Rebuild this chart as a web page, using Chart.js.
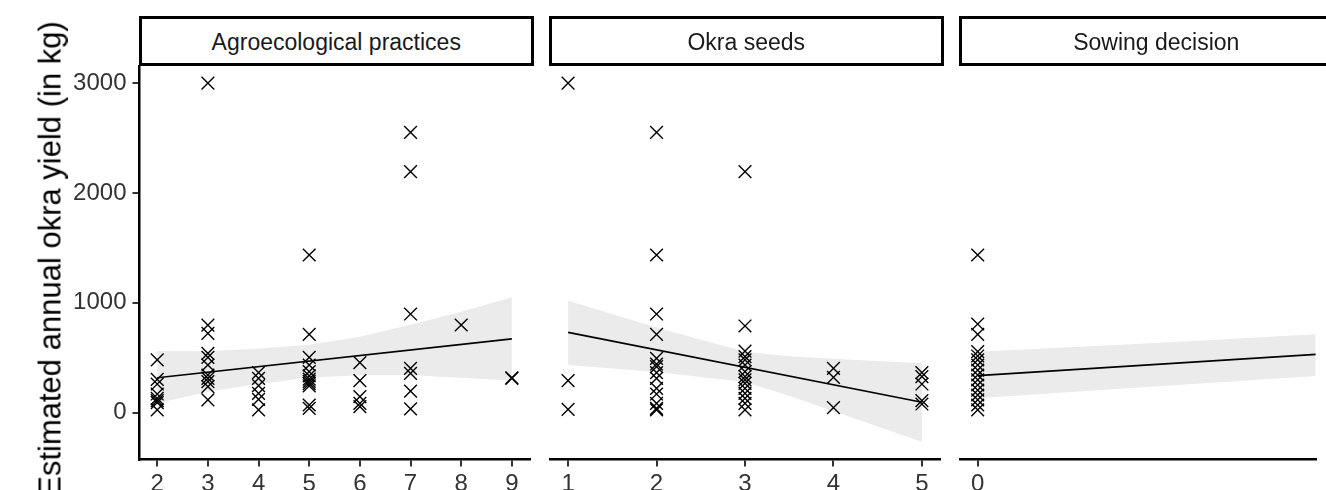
<!DOCTYPE html>
<html>
<head>
<meta charset="utf-8">
<script src="https://cdn.jsdelivr.net/npm/chart.js@4.4.1/dist/chart.umd.min.js"></script>
<style>
html,body{margin:0;padding:0;background:#fff;}
body{width:1326px;height:490px;overflow:hidden;position:relative;font-family:"Liberation Sans",Arial,sans-serif;}
canvas{position:absolute;top:0;}
.strip{position:absolute;top:16px;height:50px;width:394.5px;box-sizing:border-box;border:3px solid #000;background:#fff;color:#1a1a1a;font-size:23px;line-height:46px;text-align:center;white-space:nowrap;}
#ytitle{position:absolute;left:50px;top:259px;transform:translate(-50%,-50%) rotate(-90deg);white-space:nowrap;font-size:31px;line-height:31px;color:#000;}
</style>
</head>
<body>
<canvas id="c1" width="540" height="490" style="left:0px"></canvas>
<canvas id="c2" width="410" height="490" style="left:540px"></canvas>
<canvas id="c3" width="376" height="490" style="left:950px"></canvas>
<div class="strip" id="s1" style="left:139px"></div>
<div class="strip" id="s2" style="left:549px"></div>
<div class="strip" id="s3" style="left:959px"></div>
<div id="ytitle"></div>
<script>
// ---------- data ----------
const facetTitles = ["Agroecological practices", "Okra seeds", "Sowing decision"];
const yTitle = "Estimated annual okra yield (in kg)";
const yTicks = [0, 1000, 2000, 3000];
const yMin = -426, yMax = 3155;

// Panel 1: Agroecological practices
const agroTicks = [2, 3, 4, 5, 6, 7, 8, 9];
const agroX = [2,2,2,2,2,2,2,2,
               3,3,3,3,3,3,3,3,3,3,3,
               4,4,4,4,4,4,
               5,5,5,5,5,5,5,5,5,5,5,5,
               6,6,6,6,6,
               7,7,7,7,7,7,7,
               8,
               9,9];
const agroY = [480,304,261,170,131,110,91,25,
               3000,797,722,540,504,434,343,313,282,237,116,
               364,313,246,176,122,25,
               1435,713,504,434,373,335,305,285,265,245,70,40,
               455,291,146,85,55,
               2550,2193,898,404,358,197,34,
               798,
               313,318];
const agroFitX = [2, 9];
const agroFitY = [318, 671];
const agroBandX = [2, 3, 4, 5, 6, 7, 8, 9];
const agroBandUpper = [561, 558, 585, 618, 692, 800, 919, 1050];
const agroBandLower = [85, 190, 262, 320, 340, 340, 319, 291];

// Panel 2: Okra seeds
const seedTicks = [1, 2, 3, 4, 5];
const seedX = [1,1,1,
               2,2,2,2,2,2,2,2,2,2,2,2,2,2,
               3,3,3,3,3,3,3,3,3,3,3,3,3,3,3,
               4,4,4,
               5,5,5,5,5];
const seedY = [3000,291,31,
               2550,1435,898,713,495,443,419,364,313,222,170,85,40,25,
               2193,789,561,510,480,434,373,328,298,267,222,176,131,85,25,
               404,322,46,
               364,328,261,109,79];
const seedFitX = [1, 5];
const seedFitY = [731, 95];
const seedBandX = [1, 2, 3, 3.5, 4, 5];
const seedBandUpper = [1019, 775, 555, 513, 491, 449];
const seedBandLower = [434, 370, 280, 155, 12, -264];

// Panel 3: Sowing decision
const sowTicks = [0, 1];
const sowX = [0,0,0,0,0,0,0,0,0,0,0,0,0,0,0,0];
const sowY = [1435,807,713,555,516,480,434,388,343,298,252,206,161,116,70,25];
const sowFitX = [0, 1];
const sowFitY = [337, 536];
const sowBandX = [0, 0.5, 1];
const sowBandUpper = [555, 631, 717];
const sowBandLower = [131, 237, 338];

// ---------- text ----------
document.getElementById('s1').textContent = facetTitles[0];
document.getElementById('s2').textContent = facetTitles[1];
document.getElementById('s3').textContent = facetTitles[2];
document.getElementById('ytitle').textContent = yTitle;

// ---------- styling / build ----------
const FONT = "'Liberation Sans', Arial, sans-serif";
const TICK_COLOR = '#333333';

function pts(xs, ys) { return xs.map((x, i) => ({x: x, y: ys[i]})); }

function buildDatasets(px, py, fx, fy, bx, bu, bl) {
  return [
    {data: pts(px, py), showLine: false, pointStyle: 'crossRot', pointRadius: 9,
     pointBorderWidth: 1.4, pointBorderColor: '#000', pointBackgroundColor: 'rgba(0,0,0,0)'},
    {data: pts(fx, fy), showLine: true, borderColor: '#000', borderWidth: 1.7, pointRadius: 0, fill: false},
    {data: pts(bx, bu), showLine: true, borderColor: 'rgba(0,0,0,0)', borderWidth: 0, pointRadius: 0,
     fill: '+1', backgroundColor: '#ebebeb'},
    {data: pts(bx, bl), showLine: true, borderColor: 'rgba(0,0,0,0)', borderWidth: 0, pointRadius: 0, fill: false}
  ];
}

function xScale(min, max, ticks) {
  return {
    type: 'linear', min: min, max: max,
    afterBuildTicks: s => { s.ticks = ticks.filter(v => v >= min && v <= max).map(v => ({value: v})); },
    afterFit: s => { s.height = 30.5; },
    grid: {drawOnChartArea: false, drawTicks: true, tickLength: 7, color: '#333333', lineWidth: 2},
    border: {display: true, color: '#000', width: 2.5},
    ticks: {color: TICK_COLOR, font: {family: FONT, size: 24}, padding: 3, maxRotation: 0, autoSkip: false,
            callback: v => String(v)}
  };
}

function yScale(show) {
  if (!show) return {type: 'linear', min: yMin, max: yMax, display: false};
  return {
    type: 'linear', min: yMin, max: yMax,
    afterBuildTicks: s => { s.ticks = yTicks.map(v => ({value: v})); },
    afterFit: s => { s.width = 139.5; },
    grid: {drawOnChartArea: false, drawTicks: true, tickLength: 7, color: '#333333', lineWidth: 2},
    border: {display: true, color: '#000', width: 2.5},
    ticks: {color: TICK_COLOR, font: {family: FONT, size: 24}, padding: 6, callback: v => String(v)}
  };
}

function makeChart(id, datasets, xs, showY, padding) {
  return new Chart(document.getElementById(id), {
    type: 'scatter',
    data: {datasets: datasets},
    options: {
      responsive: false, animation: false, devicePixelRatio: 1, events: [],
      layout: {padding: padding},
      plugins: {legend: {display: false}, tooltip: {enabled: false}},
      scales: {x: xs, y: yScale(showY)}
    }
  });
}

makeChart('c1', buildDatasets(agroX, agroY, agroFitX, agroFitY, agroBandX, agroBandUpper, agroBandLower),
  xScale(1.65, 9.35, agroTicks), true, {top: 66, left: 0, right: 7.8, bottom: 0});
makeChart('c2', buildDatasets(seedX, seedY, seedFitX, seedFitY, seedBandX, seedBandUpper, seedBandLower),
  xScale(0.8, 5.2, seedTicks), false, {top: 66, left: 9.5, right: 7.8, bottom: 0});
makeChart('c3', buildDatasets(sowX, sowY, sowFitX, sowFitY, sowBandX, sowBandUpper, sowBandLower),
  xScale(-0.05, 0.9766, sowTicks), false, {top: 66, left: 9.5, right: 0, bottom: 0});
</script>
</body>
</html>
